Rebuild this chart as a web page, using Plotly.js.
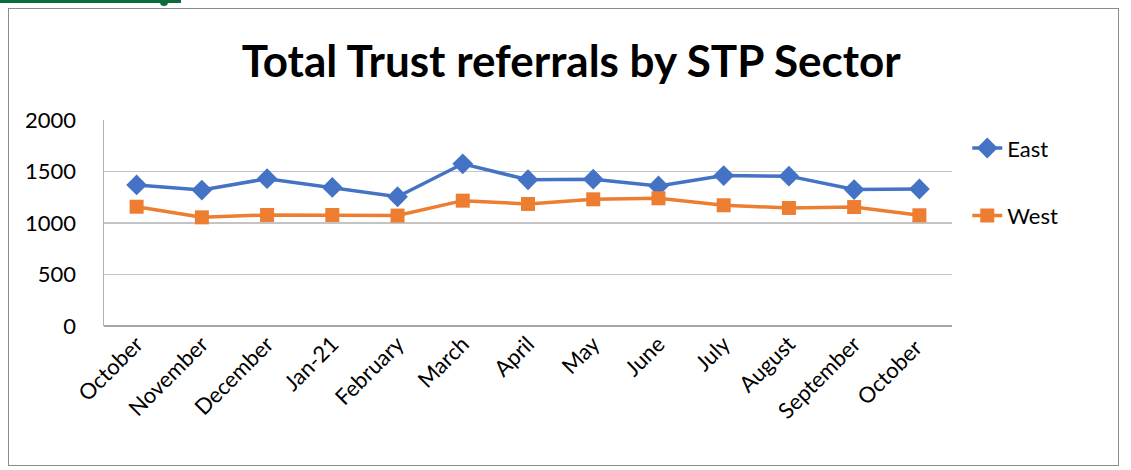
<!DOCTYPE html>
<html>
<head>
<meta charset="utf-8">
<script src="https://cdn.plot.ly/plotly-3.0.1.min.js"></script>
<style>
html,body{margin:0;padding:0;background:#fff;}
#wrap{position:relative;width:1131px;height:470px;overflow:hidden;}
#frame{position:absolute;left:8px;top:8px;width:1111px;height:458px;border:1px solid #8c8c8c;box-sizing:border-box;pointer-events:none;z-index:2;}
#green{position:absolute;left:0;top:0;width:181px;height:3px;background:#0b6b3a;z-index:3;}
#hook{position:absolute;left:160px;top:0;width:8px;height:6px;background:#0b6b3a;border-radius:0 0 4px 4px;z-index:3;}
#chart{position:absolute;left:0;top:0;width:1131px;height:470px;}
</style>
</head>
<body>
<div id="wrap">
<div id="green"></div><div id="hook"></div>
<div id="frame"></div>
<div id="chart"></div>
</div>
<script>
var months = ["October","November","December","Jan-21","February","March","April","May","June","July","August","September","October "];
var east = [1370,1320,1430,1345,1255,1575,1420,1425,1360,1460,1455,1325,1330];
var west = [1158,1055,1078,1078,1072,1217,1185,1230,1240,1172,1146,1155,1075];
var yTicks = [0,500,1000,1500,2000];

var font = "Lato, 'Open Sans', sans-serif";
var traces = [
  {x: months, y: east, name: "East", type: "scatter", mode: "lines+markers",
   line: {color: "#4472C4", width: 3.5},
   marker: {symbol: "diamond", size: 16, color: "#4472C4"},
   legendgroup: "e"},
  {x: months, y: west, name: "West", type: "scatter", mode: "lines+markers",
   line: {color: "#ED7D31", width: 3.5},
   marker: {symbol: "square", size: 14, color: "#ED7D31"},
   legendgroup: "w"}
];
var layout = {
  width: 1131, height: 470,
  margin: {l: 104, r: 179, t: 120, b: 144},
  paper_bgcolor: "rgba(0,0,0,0)", plot_bgcolor: "#fff",
  font: {family: font, size: 22, color: "#000"},
  title: {text: "<b>Total Trust referrals by STP Sector</b>", font: {family: font, size: 44, color: "#000"},
          x: 0.505, xanchor: "center", y: 0.87, yanchor: "middle"},
  xaxis: {type: "category", tickangle: -45, showgrid: false, showline: false,
          ticks: "", tickfont: {size: 22}, range: [-0.5, 12.5], fixedrange: true, zeroline: false},
  yaxis: {range: [0, 2000], tickvals: yTicks, ticktext: yTicks.map(String), showgrid: true,
          gridcolor: "#c4c4c4", gridwidth: 1.5, showline: true, linecolor: "#b0b0b0", linewidth: 1.5,
          zeroline: true, zerolinecolor: "#a6a6a6", zerolinewidth: 1.5,
          ticks: "", ticklabelstandoff: 22, tickfont: {size: 22}, fixedrange: true},
  showlegend: true,
  legend: {x: 1.018, xanchor: "left", y: 0.965, yanchor: "top", tracegroupgap: 36,
           font: {size: 22}, bgcolor: "rgba(0,0,0,0)"}
};
Plotly.newPlot("chart", traces, layout, {displayModeBar: false, staticPlot: true});
</script>
</body>
</html>
